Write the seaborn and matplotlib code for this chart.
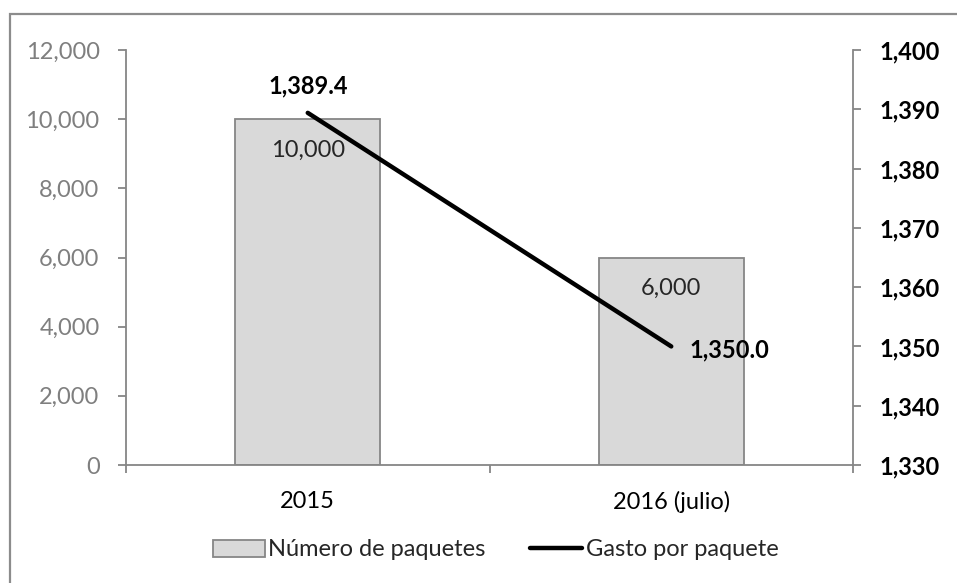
import matplotlib
matplotlib.use("Agg")
import matplotlib.pyplot as plt
import seaborn as sns
import pandas as pd
from matplotlib.patches import Rectangle
from matplotlib.ticker import FuncFormatter, FixedLocator

sns.set_theme(style="white")
plt.rcParams['font.family'] = ['Lato', 'DejaVu Sans']

categories = ["2015", "2016 (julio)"]
paquetes = [10000, 6000]
gasto = [1389.4, 1350.0]
left_ticks = [0, 2000, 4000, 6000, 8000, 10000, 12000]
right_ticks = [1330, 1340, 1350, 1360, 1370, 1380, 1390, 1400]

df = pd.DataFrame({"periodo": categories, "paquetes": paquetes, "gasto": gasto})

GRAY = "#868686"
FS = 17
fig = plt.figure(figsize=(9.57, 5.83), dpi=100)
ax = fig.add_axes([126/957, 1 - 465/583, (853 - 126)/957, (465 - 50)/583])

# outer frame (left and top edges visible)
fig.patches.append(Rectangle((10/957, -0.05), 1.2, 1 - 14/583 + 0.05,
                             transform=fig.transFigure, fill=False,
                             edgecolor="#8c8c8c", linewidth=1.6))

sns.barplot(data=df, x="periodo", y="paquetes", ax=ax, color="#d9d9d9",
            edgecolor=GRAY, linewidth=1.3, width=0.4, saturation=1)
ax.set_ylim(0, 12000)
ax.set_xlim(-0.5, 1.5)
ax.yaxis.set_major_locator(FixedLocator(left_ticks))
ax.yaxis.set_major_formatter(FuncFormatter(lambda v, p: f"{v:,.0f}"))
ax.set_xlabel("")
ax.set_ylabel("")

for i, v in enumerate(paquetes):
    ax.text(i, v - 900, f"{v:,.0f}", ha="center", va="center",
            fontsize=FS, color="#262626")

ax2 = ax.twinx()
sns.lineplot(data=df, x="periodo", y="gasto", ax=ax2, color="black",
             linewidth=3.2, sort=False, legend=False)
ax2.set_ylim(1330, 1400)
ax2.yaxis.set_major_locator(FixedLocator(right_ticks))
ax2.yaxis.set_major_formatter(FuncFormatter(lambda v, p: f"{v:,.0f}"))
ax2.set_ylabel("")
ax2.set_xlabel("")
ax2.set_xlim(-0.5, 1.5)

ax2.text(0, gasto[0] + 4.6, f"{gasto[0]:,.1f}", ha="center", va="center",
         fontsize=FS, fontweight="bold", color="black")
ax2.text(1.16, gasto[1] - 0.6, f"{gasto[1]:,.1f}", ha="center", va="center",
         fontsize=FS, fontweight="bold", color="black")

for a in (ax, ax2):
    for s in a.spines.values():
        s.set_visible(False)
ax.spines["left"].set_visible(True)
ax.spines["bottom"].set_visible(True)
ax2.spines["right"].set_visible(True)
for s in (ax.spines["left"], ax.spines["bottom"], ax2.spines["right"]):
    s.set_color(GRAY)
    s.set_linewidth(1.3)

ax.set_xticks([0, 1])
ax.set_xticklabels(categories)
ax.xaxis.set_minor_locator(FixedLocator([-0.5, 0.5, 1.5]))
ax.tick_params(axis="x", which="major", length=0, pad=19, labelsize=FS,
               labelcolor="black")
ax.tick_params(axis="x", which="minor", bottom=True, length=6, width=1.3,
               color=GRAY, direction="out")
ax.tick_params(axis="y", left=True, length=6, width=1.3, color=GRAY,
               direction="out", labelsize=FS, labelcolor="#7f7f7f", pad=13)
ax2.tick_params(axis="y", right=True, length=6, width=1.3, color=GRAY,
                direction="out", labelsize=FS, labelcolor="black", pad=13)
for lbl in ax2.get_yticklabels():
    lbl.set_fontweight("bold")

handles = [Rectangle((0, 0), 1, 1, facecolor="#d9d9d9", edgecolor=GRAY, linewidth=1.3),
           plt.Line2D([0], [0], color="black", linewidth=3.2)]
fig.legend(handles, ["Número de paquetes", "Gasto por paquete"], loc="center",
           bbox_to_anchor=(0.518, 1 - 550/583), ncol=2, frameon=False,
           fontsize=FS, handlelength=2.2, handletextpad=0.15, columnspacing=1.9,
           handleheight=0.7)

fig.savefig("out.png", dpi=100)
